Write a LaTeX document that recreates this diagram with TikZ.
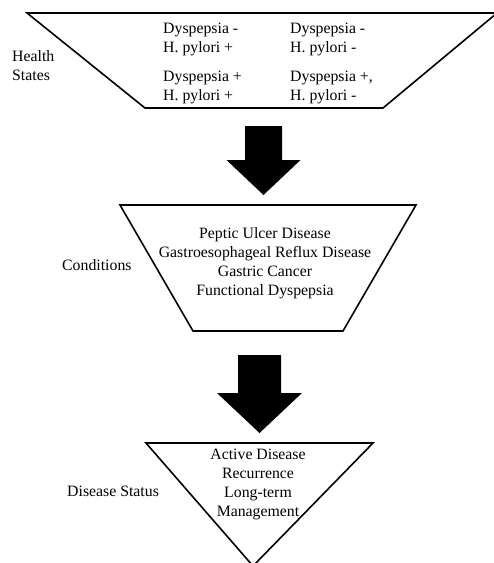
\documentclass[tikz,border=0pt]{standalone}
\usepackage{fontspec}
\setmainfont{Liberation Serif}
\usetikzlibrary{calc}

\tikzset{
    frame/.style={line width=1.6pt, line join=miter},
    blockarrow/.style={fill=black},
    label/.style={font=\fontsize{15.8}{19}\selectfont, inner sep=0pt},
    inside/.style={label, align=center},
}

\begin{document}
\begin{tikzpicture}[x=1pt, y=-1pt]
    \useasboundingbox (0,0) rectangle (494,563);

    % health states
    \draw[frame] (27,13) -- (497,13) -- (383,108) -- (145,108) -- cycle;
    \node[label, align=left, anchor=west] (hs) at (12,66) {Health\\States};
    \node[label, align=left, anchor=north west] (s1) at (163,23) {Dyspepsia -\\H. pylori +};
    \node[label, align=left, anchor=north west] (s2) at (290,23) {Dyspepsia -\\H. pylori -};
    \node[label, align=left, anchor=north west] (s3) at (163,71) {Dyspepsia +\\H. pylori +};
    \node[label, align=left, anchor=north west] (s4) at (290,71) {Dyspepsia +,\\H. pylori -};

    % first arrow
    \coordinate (a1) at (263.5,126);
    \fill[blockarrow] ($(a1)+(-18.5,0)$) -- ($(a1)+(18.5,0)$) -- ($(a1)+(18.5,34)$)
        -- ($(a1)+(37,34)$) -- ($(a1)+(0,69)$) -- ($(a1)+(-37,34)$)
        -- ($(a1)+(-18.5,34)$) -- cycle;

    % conditions
    \draw[frame] (120,205) -- (416,205) -- (343,331) -- (193,331) -- cycle;
    \node[label, anchor=west] (cond) at (62,265) {Conditions};
    \node[inside, anchor=north] (c1) at (265,227) {Peptic Ulcer Disease\\Gastroesophageal Reflux Disease\\Gastric Cancer\\Functional Dyspepsia};

    % second arrow
    \coordinate (a2) at (259.5,355);
    \fill[blockarrow] ($(a2)+(-21.5,0)$) -- ($(a2)+(21.5,0)$) -- ($(a2)+(21.5,38)$)
        -- ($(a2)+(42.5,38)$) -- ($(a2)+(0,78)$) -- ($(a2)+(-42.5,38)$)
        -- ($(a2)+(-21.5,38)$) -- cycle;

    % disease status
    \draw[frame] (146,443) -- (373,443) -- (253,566) -- cycle;
    \node[label, anchor=west] (ds) at (67,491) {Disease Status};
    \node[inside, anchor=north] (d1) at (258,449) {Active Disease\\Recurrence\\Long-term\\Management};
\end{tikzpicture}
\end{document}
